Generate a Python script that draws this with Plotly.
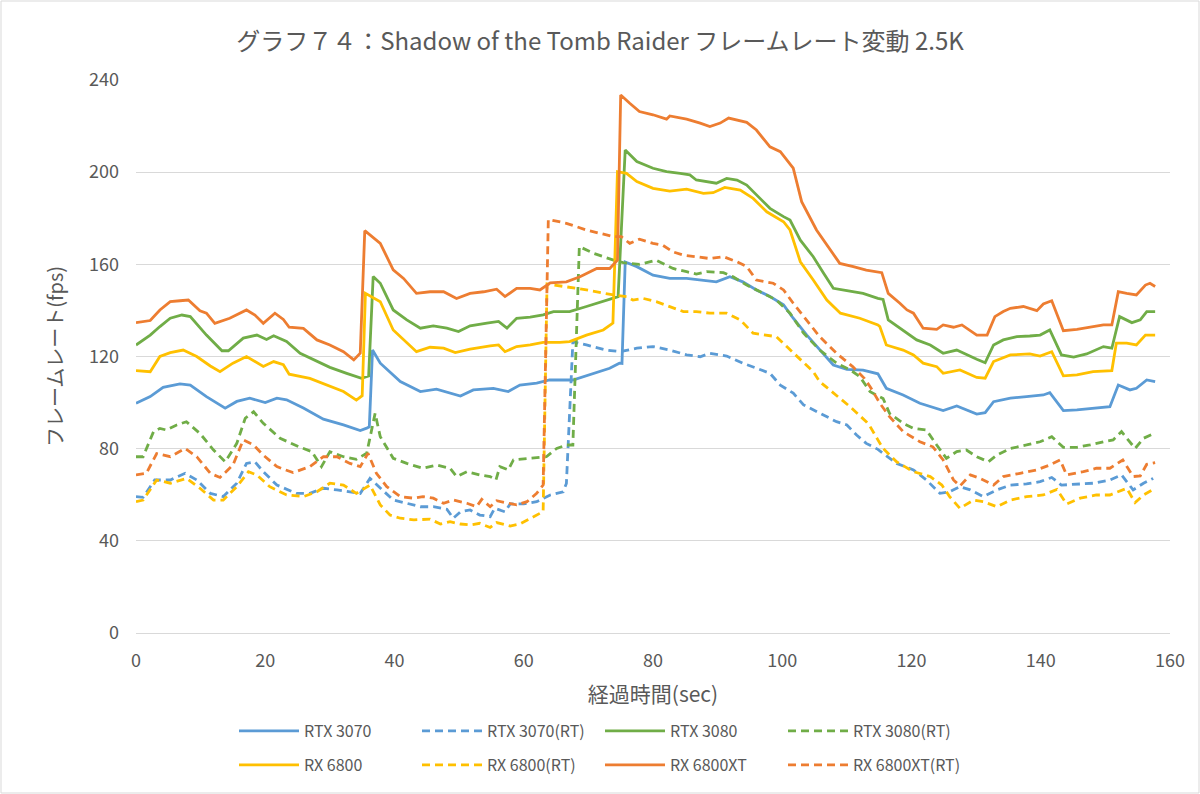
import plotly.graph_objects as go

# ---------------- data ----------------
t_rtx3070 = [0, 2.2, 4.2, 6.8, 8.4, 10.9, 13.8, 15.6, 17.6, 20, 21.8, 23.3, 25.9, 29, 32.1, 34.7, 35.7, 36.1, 36.6,
             37.8, 40.9, 44, 46.5, 50.2, 52.2, 55.3, 57.6, 59.4, 62, 64, 67.6, 70.7, 73.3, 74.8, 75.2, 75.7, 77.5, 80,
             82.6, 85.2, 87.8, 89.8, 91.9, 93.9, 96, 98.1, 100.2, 101.7, 103.8, 105.8, 107.9, 110, 112.5, 114.8, 116.1,
             118.7, 121.3, 124.9, 127, 130.1, 131.4, 132.7, 135.3, 137.8, 140.4, 141.4, 143.5, 145.6, 148.1, 150.7, 152,
             153.8, 154.8, 156.4, 157.7]
v_rtx3070 = [99.7, 102.6, 106.6, 108.1, 107.6, 102.6, 97.6, 100.5, 101.9, 100, 101.9, 101.2, 97.6, 92.8, 90.3, 87.9,
             88.9, 89.5, 122.8, 117.1, 109.1, 104.8, 105.8, 102.8, 105.5, 106.2, 104.8, 107.6, 108.4, 109.8, 109.8,
             112.7, 114.9, 117.1, 117, 161, 159, 155.3, 153.9, 153.9, 153.2, 152.4, 154.6, 152.4, 148.9, 146, 142.4,
             136.6, 129.3, 122.8, 116.3, 114.4, 114.1, 112.5, 106.2, 103.3, 99.7, 96.5, 98.5, 95, 95.6, 100.4, 101.9,
             102.6, 103.3, 104.3, 96.5, 96.8, 97.5, 98.2, 107.6, 105.5, 106.2, 109.8, 109.1]

t_rtx3070rt = [0, 1.1, 2.9, 5.3, 7.6, 9.4, 11.5, 13.5, 15.6, 17.1, 18.4, 19.7, 21.8, 24.8, 26.9, 29, 31.1, 33.1, 34.7,
               36.2, 37.8, 39.8, 41.9, 44, 46, 48.1, 49.1, 50.2, 51.7, 53.2, 54.8, 55.5, 57.1, 57.9, 60, 62, 64.1, 66.1,
               66.6, 67.6, 69.7, 72.8, 74.9, 77.5, 80, 82.6, 85.2, 87.3, 88.8, 91.4, 93.9, 96, 98.1, 99.7, 101.7, 103.3,
               105.8, 108.4, 110, 111.5, 113, 114.8, 115.6, 117.7, 120.3, 122.3, 124.4, 125.9, 127.5, 129.1, 131.1,
               133.2, 135.3, 137.8, 139.9, 141.7, 143.2, 145.6, 148.1, 150.7, 152.5, 154.3, 155.9, 157.4]
v_rtx3070rt = [59.2, 58.9, 66.4, 66.4, 69.3, 66.4, 60.6, 59.2, 65, 73.6, 74.3, 70, 64.2, 60.6, 60.6, 62.8, 62.1, 61.3,
               60.6, 67.1, 62.8, 57.7, 56.3, 54.8, 54.8, 53.7, 49.8, 52.6, 53.4, 51.2, 50.5, 54.1, 52.6, 56, 56, 57,
               59.9, 61.3, 64.9, 126.4, 125, 122.8, 122.1, 123.6, 124.3, 122.8, 120.7, 119.9, 121.4, 120.2, 117.1,
               114.9, 112.7, 107.6, 104.1, 99, 95.4, 91.7, 90.3, 85.9, 82.3, 79.7, 78, 73.6, 70.8, 66.4, 60.6, 61.3,
               63.5, 62.1, 59.2, 62.1, 64.2, 64.7, 65.7, 67.5, 64.2, 64.7, 65, 66.4, 68.6, 62.1, 65, 67.1]

t_rtx3080 = [0, 2.2, 3.7, 5.3, 7.1, 8.4, 10.9, 13.3, 14.3, 16.6, 18.7, 20.2, 21.3, 23.3, 25.4, 28, 30, 32.6, 34.9, 36.0,
             36.7, 37.8, 39.8, 41.9, 44, 46, 48.1, 49.9, 51.7, 54.3, 56.1, 57.4, 58.9, 61, 63, 64.6, 67.1, 69.7, 72.3,
             74.6, 75.7, 77.5, 80, 82.1, 84.2, 85.7, 86.7, 89.8, 91.4, 93, 94.5, 96.6, 98.1, 100.2, 101.2, 102.8, 104.8,
             106.4, 107.9, 110, 112.5, 114.8, 115.6, 116.4, 118.7, 120.8, 122.9, 124.9, 127, 128.5, 130.1, 131.4, 132.7,
             134.2, 136.3, 138.3, 139.9, 141.4, 143.2, 145.1, 147.1, 149.7, 151, 152.2, 154.1, 155.4, 156.4, 157.7]
v_rtx3080 = [125, 129.3, 133, 136.6, 138, 137.3, 129.3, 122.5, 122.5, 128, 129.3, 127.4, 129, 126.5, 121.4, 117.8,
             115.3, 112.7, 110.5, 111.5, 154.7, 151.8, 140.2, 135.9, 132.3, 133.3, 132.3, 130.8, 133.3, 134.5, 135.2,
             132.3, 136.6, 137.1, 138.1, 139.5, 139.5, 141.7, 143.9, 146, 209.6, 204.6, 201.7, 200.2, 199.5, 198.8,
             196.6, 195.2, 197.3, 196.6, 194.4, 188.6, 184.3, 180.7, 179.2, 170.5, 163.3, 156.1, 149.6, 148.6, 147.4,
             145.2, 144.8, 135.9, 131.5, 127.2, 125, 121.4, 122.8, 120.7, 118.8, 117.3, 125, 127.2, 128.6, 128.9,
             129.3, 131.5, 120.7, 119.7, 121.1, 124.3, 123.6, 137.3, 134.7, 135.9, 139.5, 139.5]

t_rtx3080rt = [0, 1.1, 2.7, 3.7, 4.7, 6.3, 7.8, 9.9, 12, 13.8, 15.6, 16.9, 18.2, 19.7, 22.3, 25.4, 27.2, 28.7, 30, 32.1,
               34.1, 35.7, 37, 37.8, 39.8, 41.9, 44.4, 46.5, 48.6, 49.6, 51.2, 53.2, 54.8, 55.7, 56.3, 57.6, 58.4, 61,
               63.5, 65.1, 66.6, 67.6, 68.6, 70.8, 73.9, 75.4, 77.9, 80.5, 83.1, 85.2, 86.7, 88.3, 90.9, 92.4, 94.5,
               96.6, 99.1, 101.2, 103.3, 105.8, 108.4, 110.5, 112, 113.6, 115.6, 116.6, 118.7, 120.3, 122.3, 123.9,
               125.4, 127, 128.5, 130.1, 131.9, 133.2, 135.3, 137.8, 139.9, 141.7, 143.5, 145.6, 147.6, 149.7, 151.2,
               152.5, 154.6, 155.9, 157.4]
v_rtx3080rt = [76.5, 76.5, 87.3, 88.8, 88.1, 90.3, 91.7, 86.6, 79.4, 74.3, 82.3, 93.2, 96, 91, 84.5, 80.6, 78.7, 72.2,
               78.7, 76.5, 75.4, 78, 95.3, 85.2, 75.8, 73.6, 71.5, 72.9, 71.5, 67.9, 70, 68.6, 67.9, 66.4, 72.2, 70.8,
               75.1, 75.8, 76.5, 80.1, 81.6, 81.6, 167.7, 164.8, 161.8, 160.7, 160, 161.8, 158.2, 156.8, 155.8, 156.8,
               156.4, 154.6, 151, 148.1, 144.5, 138.8, 130.1, 122.8, 117.1, 114.2, 111.3, 104.7, 101.8, 95.3, 91,
               88.8, 88.1, 81.6, 75.8, 78.7, 79.4, 76.5, 74.3, 77.2, 80.1, 81.6, 83, 85.2, 80.6, 80.6, 81.6, 83, 83.8,
               87.4, 80.1, 84.5, 86.4]

t_rx6800 = [0, 2.2, 3.7, 5.3, 7.3, 9.4, 11.5, 13, 15, 17.1, 19.7, 21.3, 22.8, 23.7, 26.9, 30, 32.1, 34.1, 35, 35.5, 37.8,
            39.8, 41.9, 43.4, 45.5, 47.6, 49.4, 51.7, 54.8, 56.1, 57.1, 58.9, 61, 63, 65.6, 67.1, 69.7, 72.3, 73.8, 74.5,
            75.9, 77.5, 80, 82.6, 85.2, 87.8, 89.3, 91.1, 93.5, 95.5, 97.6, 100.2, 101.2, 102.8, 104.8, 106.9, 109, 112,
            114.8, 115.1, 116.1, 118.7, 120.3, 121.8, 123.9, 124.9, 127.5, 130.1, 131.4, 132.7, 135.3, 138.3, 139.9,
            141.7, 143.5, 145.6, 148.1, 151, 151.7, 153.3, 154.8, 156.2, 157.7]
v_rx6800 = [113.9, 113.4, 120, 121.7, 122.8, 120, 115.9, 113.4, 117.1, 120, 115.7, 117.8, 116.4, 112.3, 110.5, 106.9,
            104.8, 101.1, 103, 147.4, 143.8, 131.5, 125.8, 122.1, 124, 123.6, 121.7, 123.2, 124.6, 125, 122.1, 124.3,
            125, 126.1, 126.1, 126.5, 129.3, 131.5, 134.5, 200.2, 199.5, 195.9, 193, 191.8, 192.6, 190.8, 191.1,
            193.4, 192.2, 188.6, 182.8, 178.5, 174.9, 161.1, 153.2, 144.5, 138.8, 136.6, 133.7, 133, 125, 122.8,
            120.7, 117.1, 115.6, 112.7, 114.2, 110.9, 110.6, 117.8, 120.7, 121.1, 120.2, 122.1, 111.6, 112, 113.4,
            113.9, 125.8, 125.8, 125, 129.3, 129.3]

t_rx6800rt = [0, 1.1, 3.2, 5.3, 7.8, 9.9, 12, 13.5, 15.6, 17.4, 18.7, 20.7, 23.3, 25.9, 28, 30, 32.1, 34.1, 36.2, 37.8,
              39.3, 40.9, 43, 45.5, 47.1, 48.6, 50.2, 51.7, 53.2, 54.8, 55.8, 57.9, 59.4, 61.5, 63, 63.6, 66.6, 69.7,
              73.9, 75.9, 76.9, 78.5, 80.5, 82.6, 84.7, 86.7, 88.8, 91.4, 93.5, 95.5, 97.6, 99.1, 100.7, 102.8, 104.8,
              105.8, 107.9, 110.5, 113, 113.6, 114.8, 115.6, 117.7, 120.3, 122.9, 124.7, 125.9, 127.5, 129.6, 131.1,
              133.2, 135.3, 137.8, 140.4, 142.5, 144, 146.1, 148.6, 150.7, 153.3, 154.6, 155.9, 157.4]
v_rx6800rt = [57, 57.7, 66.4, 65, 67.1, 62.8, 57.7, 57.7, 63.5, 70, 68.6, 63.5, 59.9, 59.2, 61.3, 65, 64.2, 60.6, 64.2,
              55.6, 51.2, 49.8, 49.1, 49.4, 47.3, 48.3, 47.3, 46.9, 47.6, 45.8, 47.9, 46.4, 47.3, 50.5, 52.7, 151.5,
              150.3, 148.9, 146.7, 146, 144.5, 145.2, 143.8, 141.7, 139.5, 139.5, 138.8, 138.8, 135.9, 130.1, 129.3,
              128.6, 124.3, 118.5, 113.4, 109.1, 104.1, 98.2, 91.7, 89.6, 83.8, 80.1, 74.3, 70, 67.9, 64.2, 59.2,
              54.1, 57.7, 57, 54.8, 57.7, 59.2, 59.9, 62.3, 56, 58.5, 59.9, 59.9, 62.8, 56.6, 59.9, 62.3]

t_rx6800xt = [0, 2.2, 3.7, 5.3, 6.8, 8.1, 9.9, 10.9, 12.2, 14.5, 17.1, 18.4, 19.7, 21.5, 22.8, 23.7, 25.9, 28, 30, 32.1,
              33.7, 34.7, 35.4, 37.8, 39.8, 41.4, 43.4, 45.5, 47.6, 49.6, 51.7, 53.8, 55.8, 57.1, 58.9, 61, 62.5, 64.1,
              66.6, 68.7, 71.3, 73.3, 74.5, 75, 76.4, 77.9, 80, 82.1, 82.6, 85.2, 87.3, 88.8, 90.4, 91.7, 94.5, 96,
              98.1, 99.7, 101.7, 103, 105.3, 107.4, 108.9, 111, 113, 115.4, 116.4, 118.2, 119.3, 120.3, 121.8, 123.9,
              124.9, 126.5, 127.8, 130.1, 131.7, 132.9, 134.2, 135.3, 137.3, 139.4, 140.4, 141.7, 143.5, 145.6, 147.6,
              149.7, 151, 152, 153.3, 154.8, 156.2, 156.9, 157.7]
v_rx6800xt = [134.7, 135.6, 140.2, 143.8, 144.2, 144.5, 139.8, 138.8, 134.4, 136.6, 140.2, 138, 134.4, 138.8, 136.1,
              132.7, 132.2, 127.2, 125, 122.1, 118.5, 121.4, 174.6, 169.1, 157.6, 153.9, 147.4, 148.1, 148.1, 145.2,
              147.4, 148.1, 149.2, 146, 149.6, 149.6, 148.9, 152, 152.4, 154.6, 158.2, 158.2, 161.8, 233.5, 229.9,
              226.3, 224.9, 223, 224.4, 223, 221.3, 219.8, 221.3, 223.5, 221.6, 218.3, 211, 208.9, 201.7, 187.2,
              174.9, 166.2, 160.4, 159, 157.5, 156.4, 147.4, 143.1, 140.2, 138.8, 132.3, 131.8, 133.7, 132.7, 133.7,
              129.3, 129.3, 137.3, 139.5, 140.9, 141.7, 139.9, 142.8, 144.2, 131.2, 131.8, 132.7, 133.7, 133.7,
              148.1, 147.4, 146.7, 151, 151.8, 150.4]

t_rx6800xtrt = [0, 1.6, 3.2, 5.3, 7.6, 9.4, 11.5, 13, 15, 16.6, 18.2, 19.7, 21.8, 24.3, 26.9, 29, 31.1, 33.1, 34.7, 35.9,
                37.2, 38.8, 40.9, 43, 44.4, 46, 47.6, 49.1, 51.2, 52.7, 53.5, 54.8, 55.8, 57.4, 58.9, 60.5, 62, 63,
                63.8, 66.6, 69.7, 73.9, 75.1, 76.4, 77.9, 80, 81.5, 83.1, 84.7, 86.7, 88.8, 90.9, 93, 94.5, 96, 98.6,
                100.2, 101.7, 103.8, 105.8, 108.4, 110.9, 112.7, 113.6, 115.1, 116.6, 118.7, 121.3, 123.3, 124.9,
                126.5, 127.5, 129.1, 130.6, 132.7, 134.2, 136.8, 139.4, 141.4, 143, 144, 146.6, 148.6, 150.7, 152.7,
                154.3, 155.4, 156.4, 157.7]
v_rx6800xtrt = [68.6, 69.3, 77.9, 76.5, 80.1, 76.5, 69.3, 67.5, 72.9, 83.8, 81.6, 77.2, 72.2, 69.6, 72.2, 76.5, 76.5,
                73.6, 72.2, 78, 69.3, 63.5, 59.2, 58.5, 59.2, 58.5, 56.3, 57.7, 56.3, 54.8, 58, 54.8, 57.4, 56.3, 55.6,
                57, 60.6, 64.2, 179.5, 177.8, 174.9, 172, 172, 169.1, 170.9, 169.1, 168.3, 165.4, 164, 163.3, 162.5,
                163.3, 161.1, 159, 153.2, 151.8, 148.9, 143.1, 135.9, 128.6, 121.4, 115.6, 110.5, 106.9, 99.7, 93.9,
                87.4, 83, 80.8, 75.1, 66.4, 63.8, 68.6, 67.1, 64.2, 67.9, 69.3, 70.8, 72.9, 75.1, 68.6, 70, 71.5,
                71.5, 75.1, 67.9, 68.2, 73.2, 73.9]

series_names = ["RTX 3070", "RTX 3070(RT)", "RTX 3080", "RTX 3080(RT)",
                "RX 6800", "RX 6800(RT)", "RX 6800XT", "RX 6800XT(RT)"]
series_t = [t_rtx3070, t_rtx3070rt, t_rtx3080, t_rtx3080rt, t_rx6800, t_rx6800rt, t_rx6800xt, t_rx6800xtrt]
series_v = [v_rtx3070, v_rtx3070rt, v_rtx3080, v_rtx3080rt, v_rx6800, v_rx6800rt, v_rx6800xt, v_rx6800xtrt]

x_ticks = [0, 20, 40, 60, 80, 100, 120, 140, 160]
y_ticks = [0, 40, 80, 120, 160, 200, 240]

# ---------------- styling ----------------
colors = ["#5B9BD5", "#5B9BD5", "#70AD47", "#70AD47", "#FFC000", "#FFC000", "#ED7D31", "#ED7D31"]
dashes = ["solid", "8px,5px", "solid", "8px,5px", "solid", "8px,5px", "solid", "8px,5px"]
FONT = "Noto Sans CJK JP"
GREY = "#595959"

fig = go.Figure()
for i, (name, tt, vv) in enumerate(zip(series_names, series_t, series_v)):
    fig.add_trace(go.Scatter(
        x=tt, y=vv, mode="lines", name=name,
        line=dict(color=colors[i], width=2.8, dash=dashes[i]),
        legend="legend" if i < 4 else "legend2",
    ))

W, H = 1200, 794
ml, mr, mt, mb = 136, 30, 80, 161
pw, ph = W - ml - mr, H - mt - mb

legend_common = dict(orientation="h", xanchor="left", yanchor="middle",
                     font=dict(family=FONT, size=16, color=GREY),
                     entrywidth=108, entrywidthmode="pixels",
                     bgcolor="rgba(0,0,0,0)", itemwidth=60, traceorder="normal")

fig.update_layout(
    width=W, height=H,
    margin=dict(l=ml, r=mr, t=mt, b=mb),
    paper_bgcolor="white", plot_bgcolor="white",
    font=dict(family=FONT, color=GREY),
    title=dict(text="グラフ７４：Shadow of the Tomb Raider フレームレート変動 2.5K",
               x=0.5, xanchor="center", y=1 - 42 / H, yanchor="middle",
               font=dict(family=FONT, size=24, color=GREY)),
    xaxis=dict(range=[0, 160], tickvals=x_ticks, showgrid=False, zeroline=False,
               showline=True, linecolor="#D9D9D9", linewidth=1, ticks="",
               tickfont=dict(family=FONT, size=18, color=GREY), ticklabelstandoff=11,
               title=dict(text="経過時間(sec)", font=dict(family=FONT, size=21, color=GREY), standoff=16)),
    yaxis=dict(range=[0, 240], tickvals=y_ticks, showgrid=True, gridcolor="#D9D9D9", gridwidth=1,
               zeroline=False, showline=False, ticks="",
               tickfont=dict(family=FONT, size=18, color=GREY), ticklabelstandoff=16,
               title=dict(text="フレームレート(fps)", font=dict(family=FONT, size=20, color=GREY), standoff=20)),
    legend=dict(x=(234 - ml) / pw, y=(633 - 731) / ph, **legend_common),
    legend2=dict(x=(234 - ml) / pw, y=(633 - 765) / ph, **legend_common),
    shapes=[dict(type="rect", xref="paper", yref="paper",
                 x0=-(ml - 1) / pw, x1=1 + (mr - 1) / pw, y0=-(mb - 1) / ph, y1=1 + (mt - 1) / ph,
                 line=dict(color="#D9D9D9", width=1), fillcolor="rgba(0,0,0,0)", layer="below")],
    showlegend=True,
)

fig.write_html("out.html", config={"displayModeBar": False},
               post_script="document.body.style.margin='0';document.body.style.overflow='hidden';")
